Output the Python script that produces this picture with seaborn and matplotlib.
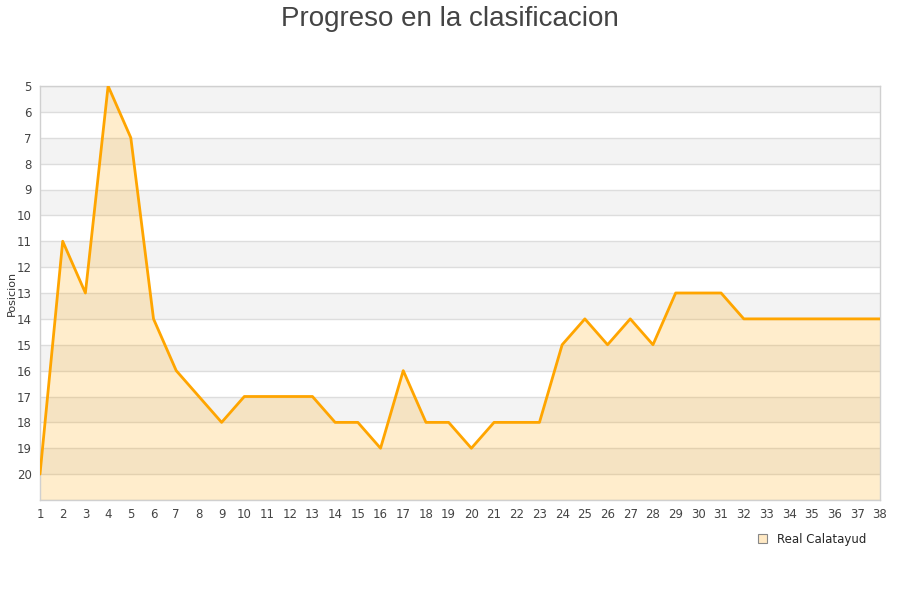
import matplotlib
matplotlib.use("Agg")
import matplotlib.pyplot as plt
import seaborn as sns
import pandas as pd

jornadas = list(range(1, 39))
posiciones = [20, 11, 13, 5, 7, 14, 16, 17, 18, 17, 17, 17, 17, 18, 18, 19, 16, 18, 18, 19,
              18, 18, 18, 15, 14, 15, 14, 15, 13, 13, 13, 14, 14, 14, 14, 14, 14, 14]
equipo = "Real Calatayud"
titulo = "Progreso en la clasificacion"
ylabel = "Posicion"

df = pd.DataFrame({"Jornada": jornadas, "Posicion": posiciones})

sns.set_theme(style="white")
plt.rcParams['font.family'] = ['DejaVu Sans']

fig = plt.figure(figsize=(9, 6), dpi=100)
ax = fig.add_axes([40/900, 100/600, 840/900, 414/600])

ymin, ymax = 5, 21
# alternating bands
for y in range(5, 21, 2):
    ax.axhspan(y, y + 1, color="#f3f3f3", zorder=0, lw=0)
for y in range(5, 22):
    ax.axhline(y, color="#dddddd", lw=1, zorder=1)

ax.fill_between(df["Jornada"], df["Posicion"], ymax, color="#ffa500", alpha=0.2, lw=0, zorder=2)
sns.lineplot(data=df, x="Jornada", y="Posicion", ax=ax, color="#ffa500", lw=2, zorder=3)

ax.set_xlim(1, 38)
ax.set_ylim(ymax, ymin)
ax.set_xticks(jornadas)
ax.set_yticks(list(range(5, 21)))
ax.tick_params(axis="both", labelsize=8.5, colors="#444444", length=0, pad=6)
ax.set_xlabel("")
ax.set_ylabel(ylabel, fontsize=8, color="#333333", labelpad=0)
for s in ax.spines.values():
    s.set_color("#d0d0d0")
    s.set_linewidth(1)

fig.suptitle(titulo, fontsize=20, color="#444444", y=0.99, family=["Liberation Sans", "DejaVu Sans"])

from matplotlib.patches import Patch
handle = Patch(facecolor="#ffe9c4", edgecolor="#888888", lw=0.8)
fig.legend([handle], [equipo], loc="center", bbox_to_anchor=(812/900, 1 - 539/600),
           frameon=False, fontsize=8.5, handlelength=0.8, handleheight=0.8, handletextpad=0.8)

fig.savefig("out.png", dpi=100)
